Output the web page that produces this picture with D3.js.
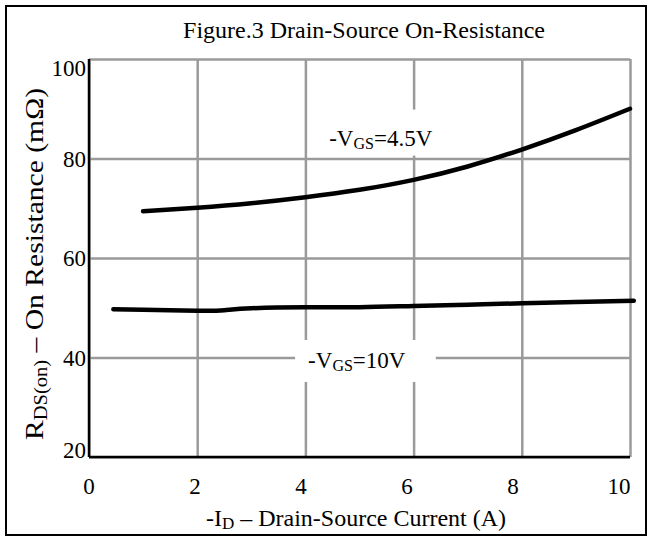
<!doctype html>
<html lang="en">
<head>
    <meta charset="UTF-8">
    <title>Figure.3 Drain-Source On-Resistance</title>
    <script src="https://cdnjs.cloudflare.com/ajax/libs/d3/7.8.5/d3.min.js"></script>
    <style>
        html, body {
            margin: 0;
            padding: 0;
            background: #fff;
            overflow: hidden;
        }
        text {
            font-family: "Liberation Serif", "Times New Roman", serif;
            fill: #000;
        }
    </style>
</head>
<body>
<svg id="chart" width="652" height="541"></svg>
<script>
    // values
    const xTicks = [0, 2, 4, 6, 8, 10];
    const yTicks = [20, 40, 60, 80, 100];

    const id45 = [1.0, 2.0, 3.0, 4.0, 5.0, 6.0, 7.0, 8.0, 9.0, 10.0];
    const rds45 = [69.4, 70.1, 71.0, 72.2, 73.7, 75.7, 78.4, 81.8, 85.7, 90.0];

    const id10 = [0.45, 1.0, 2.0, 2.5, 3.0, 4.0, 5.0, 6.0, 7.0, 8.0, 9.0, 10.07];
    const rds10 = [49.7, 49.6, 49.4, 49.5, 49.9, 50.1, 50.1, 50.35, 50.6, 50.9, 51.15, 51.4];

    const svg = d3.select("#chart");
    const W = 652, H = 541;
    const margin = {top: 59, right: 22, bottom: 84, left: 89};
    const width = W - margin.left - margin.right;
    const height = H - margin.top - margin.bottom;

    const x = d3.scaleLinear().domain([0, 10]).range([0, width]);
    const y = d3.scaleLinear().domain([20, 100]).range([height, 0]);
    // the tick numbers sit a little left of their grid lines in the original
    const xLab = x.copy().range([0, width - 11]);

    // outer frame
    svg.append("rect")
        .attr("x", 6).attr("y", 6)
        .attr("width", W - 12).attr("height", H - 12)
        .attr("fill", "#fff")
        .attr("stroke", "#000")
        .attr("stroke-width", 2);

    svg.append("text")
        .attr("x", 364).attr("y", 38)
        .attr("text-anchor", "middle")
        .attr("font-size", 24)
        .text("Figure.3 Drain-Source On-Resistance");

    const g = svg.append("g")
        .attr("transform", "translate(" + margin.left + "," + margin.top + ")");

    // grid
    g.append("g")
        .call(d3.axisBottom(x).tickValues(xTicks).tickSize(-height).tickFormat(""))
        .attr("transform", "translate(0," + height + ")")
        .call(a => a.select(".domain").remove())
        .call(a => a.selectAll("line").attr("stroke", "#9a9a9a").attr("stroke-width", 2.5));

    g.append("g")
        .call(d3.axisLeft(y).tickValues(yTicks).tickSize(-width).tickFormat(""))
        .call(a => a.select(".domain").remove())
        .call(a => a.selectAll("line").attr("stroke", "#9a9a9a").attr("stroke-width", 2.5));

    // labels with white boxes breaking the grid
    function label(px, py, sub, rest, pad) {
        const t = g.append("text")
            .attr("x", x(px)).attr("y", y(py))
            .attr("font-size", 23);
        t.append("tspan").text("-V");
        t.append("tspan").attr("font-size", 16).attr("dy", 3).text(sub);
        t.append("tspan").attr("dy", -3).text(rest);
        const b = t.node().getBBox();
        g.insert("rect", () => t.node())
            .attr("x", b.x - pad[0]).attr("y", b.y - pad[1])
            .attr("width", b.width + pad[0] + pad[2])
            .attr("height", b.height + pad[1] + pad[3])
            .attr("fill", "#fff");
    }
    label(4.44, 82.6, "GS", "=4.5V", [20, 16, 20, 4]);
    label(4.05, 37.9, "GS", "=10V", [13, 8, 30, 8]);

    // axes
    g.append("line")
        .attr("x1", 0).attr("x2", 0).attr("y1", 0).attr("y2", height)
        .attr("stroke", "#000").attr("stroke-width", 2.5);
    g.append("line")
        .attr("x1", 0).attr("x2", width).attr("y1", height).attr("y2", height)
        .attr("stroke", "#000").attr("stroke-width", 2.5);

    g.selectAll(".ylab")
        .data(yTicks)
        .enter().append("text")
        .attr("class", "ylab")
        .attr("x", -3)
        .attr("y", d => y(d) + (d === 100 ? 17 : d === 20 ? 1 : 8))
        .attr("text-anchor", "end")
        .attr("font-size", 23)
        .text(d => d);

    g.selectAll(".xlab")
        .data(xTicks)
        .enter().append("text")
        .attr("class", "xlab")
        .attr("x", d => xLab(d))
        .attr("y", height + 37)
        .attr("text-anchor", "middle")
        .attr("font-size", 23)
        .text(d => d);

    // curves
    const line = d3.line()
        .x(d => x(d[0]))
        .y(d => y(d[1]))
        .curve(d3.curveNatural);

    [[id45, rds45], [id10, rds10]].forEach(s => {
        g.append("path")
            .datum(d3.zip(s[0], s[1]))
            .attr("fill", "none")
            .attr("stroke", "#000")
            .attr("stroke-width", 4.5)
            .attr("stroke-linecap", "round")
            .attr("d", line);
    });

    // axis titles
    const xt = svg.append("text")
        .attr("x", 356).attr("y", 526)
        .attr("text-anchor", "middle")
        .attr("font-size", 24);
    xt.append("tspan").text("-I");
    xt.append("tspan").attr("font-size", 17).attr("dy", 3).text("D");
    xt.append("tspan").attr("dy", -3).text(" \u2013 Drain-Source Current (A)");

    const yt = svg.append("text")
        .attr("transform", "translate(43,440) rotate(-90)")
        .attr("text-anchor", "start")
        .attr("font-size", 26)
        .attr("textLength", 352)
        .attr("lengthAdjust", "spacingAndGlyphs");
    yt.append("tspan").text("R");
    yt.append("tspan").attr("font-size", 18).attr("dy", 4).text("DS(on)");
    yt.append("tspan").attr("dy", -4).text(" \u2013 On Resistance (m\u03a9)");
</script>
</body>
</html>
